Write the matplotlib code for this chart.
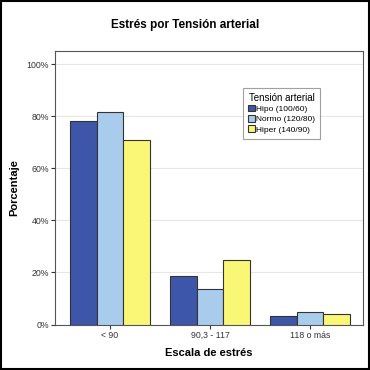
import matplotlib
matplotlib.use("Agg")
import matplotlib.pyplot as plt
from matplotlib.patches import Rectangle
import numpy as np

plt.rcParams['font.family'] = ['Liberation Sans', 'DejaVu Sans']

categories = ["< 90", "90,3 - 117", "118 o más"]
series_names = ["Hipo (100/60)", "Normo (120/80)", "Hiper (140/90)"]
hipo = [78.1, 18.6, 3.3]
normo = [81.4, 13.8, 4.8]
hiper = [71.0, 24.8, 4.2]
yticks = [0, 20, 40, 60, 80, 100]
ytick_labels = ["0%", "20%", "40%", "60%", "80%", "100%"]

colors = ["#3E56AA", "#A9CCEC", "#FBF776"]

fig = plt.figure(figsize=(3.7, 3.7), dpi=100)
fig.patch.set_facecolor("white")
fig.add_artist(Rectangle((0.003, 0.003), 0.994, 0.994, transform=fig.transFigure,
                         fill=False, edgecolor="black", linewidth=1.5))

ax = fig.add_axes([55/370, 1 - 324.5/370, 308/370, (324.5 - 51)/370])
x = np.arange(len(categories))
w = 0.267
for i, (vals, name) in enumerate(zip([hipo, normo, hiper], series_names)):
    ax.bar(x + (i - 1) * w, vals, width=w, color=colors[i], edgecolor="#333333",
           linewidth=0.8, label=name, zorder=3)

ax.set_xlim(-0.55, 2.53)
ax.set_ylim(0, 105)
ax.set_yticks(yticks)
ax.set_yticklabels(ytick_labels)
ax.set_xticks(x)
ax.set_xticklabels(categories)
ax.tick_params(axis="both", labelsize=6.3, colors="#333333", length=3, width=0.8, pad=1.5)
ax.yaxis.grid(True, color="#E6E6E6", linewidth=0.8, zorder=0)
for s in ax.spines.values():
    s.set_color("#555555")
    s.set_linewidth(0.8)

ax.set_ylabel("Porcentaje", fontsize=8, fontweight="bold")
ax.yaxis.set_label_coords(-(55 - 19) / 308, 0.5)
ax.set_xlabel("Escala de estrés", fontsize=8, fontweight="bold", labelpad=6)
fig.text(0.5, 1 - 25/370, "Estrés por Tensión arterial", ha="center", va="center",
         fontsize=8.5, fontweight="bold")

leg = ax.legend(loc="upper left", bbox_to_anchor=(243/370, 1 - 88/370),
                bbox_transform=fig.transFigure, title="Tensión arterial",
                fontsize=6, title_fontsize=7, frameon=True, fancybox=False,
                edgecolor="#888888", handlelength=0.8, handleheight=0.8,
                handletextpad=0.2, borderpad=0.6, labelspacing=0.25,
                borderaxespad=0)
leg.get_frame().set_linewidth(0.8)

fig.savefig("out.png", dpi=100, facecolor="white")
